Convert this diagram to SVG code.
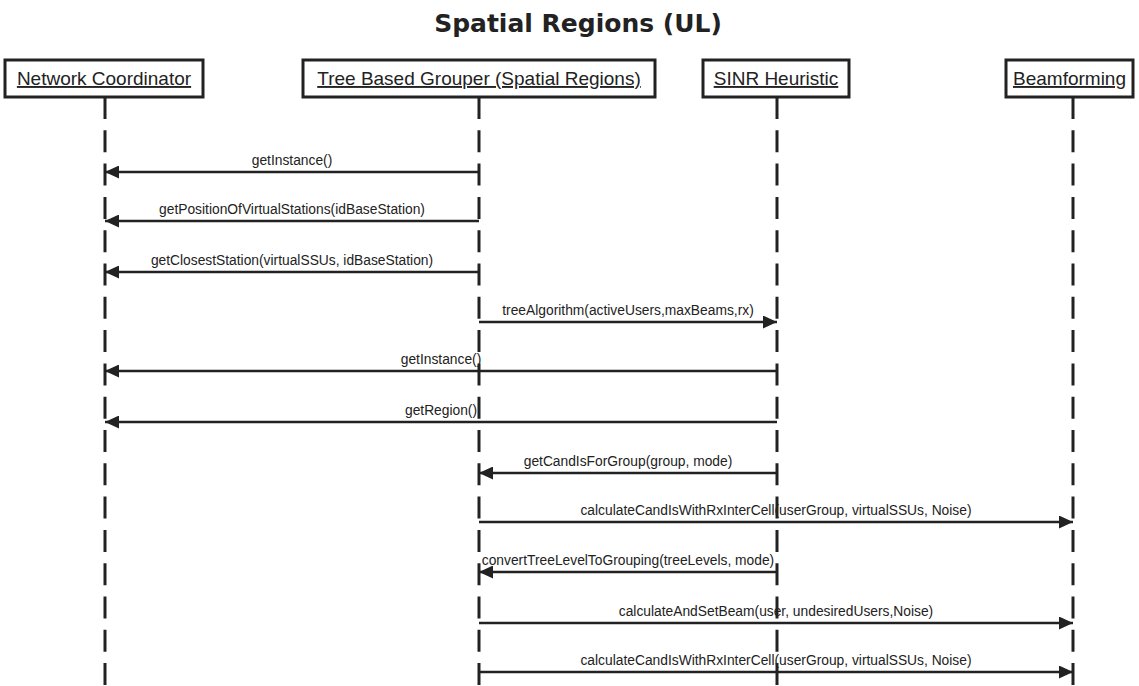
<svg xmlns="http://www.w3.org/2000/svg" width="1139" height="686" viewBox="0 0 1139 686">
  <style>
    .title { font-family: "DejaVu Sans", Verdana, sans-serif; font-weight: bold; font-size: 25px; fill: #222; }
    .box { fill: #fff; stroke: #222; stroke-width: 3; }
    .name { font-family: "Liberation Sans", Arial, sans-serif; font-size: 19px; fill: #222; text-decoration: underline; }
    .life { stroke: #222; stroke-width: 3; stroke-dasharray: 22 11.3; fill: none; }
    .msg { stroke: #222; stroke-width: 2.5; fill: none; }
    .lbl { font-family: "Liberation Sans", Arial, sans-serif; font-size: 13.8px; fill: #222; text-anchor: middle; }
  </style>
  <defs>
    <marker id="arrow" viewBox="0 0 14 13" refX="14" refY="6.5" markerWidth="14" markerHeight="13" markerUnits="userSpaceOnUse" orient="auto">
      <path d="M0,0 L14,6.5 L0,13 Z" fill="#222"/>
    </marker>
  </defs>
  <rect width="1139" height="686" fill="#fff"/>

  <text class="title" x="578" y="32" text-anchor="middle">Spatial Regions (UL)</text>

  <!-- lifelines -->
  <g id="lifelines">
    <line class="life" x1="105" y1="97" x2="105" y2="686"/>
    <line class="life" x1="479" y1="97" x2="479" y2="686"/>
    <line class="life" x1="777" y1="97" x2="777" y2="686"/>
    <line class="life" x1="1073" y1="97" x2="1073" y2="686"/>
  </g>

  <!-- participants -->
  <g id="network-coordinator">
    <rect class="box" x="5" y="60" width="198" height="37"/>
    <text class="name" x="104" y="85" text-anchor="middle">Network Coordinator</text>
  </g>
  <g id="tree-based-grouper">
    <rect class="box" x="303" y="60" width="352" height="37"/>
    <text class="name" x="479" y="85" text-anchor="middle">Tree Based Grouper (Spatial Regions)</text>
  </g>
  <g id="sinr-heuristic">
    <rect class="box" x="703" y="60" width="146" height="37"/>
    <text class="name" x="776" y="85" text-anchor="middle">SINR Heuristic</text>
  </g>
  <g id="beamforming">
    <rect class="box" x="1006" y="60" width="127" height="37"/>
    <text class="name" x="1069.500" y="85" text-anchor="middle">Beamforming</text>
  </g>

  <!-- messages -->
  <g id="connectors">
    <line class="msg" x1="479" y1="172" x2="105" y2="172" marker-end="url(#arrow)"/>
    <text class="lbl" x="292" y="165">getInstance()</text>

    <line class="msg" x1="479" y1="221" x2="105" y2="221" marker-end="url(#arrow)"/>
    <text class="lbl" x="292" y="214">getPositionOfVirtualStations(idBaseStation)</text>

    <line class="msg" x1="479" y1="272" x2="105" y2="272" marker-end="url(#arrow)"/>
    <text class="lbl" x="292" y="265">getClosestStation(virtualSSUs, idBaseStation)</text>

    <line class="msg" x1="479" y1="322" x2="777" y2="322" marker-end="url(#arrow)"/>
    <text class="lbl" x="628" y="315">treeAlgorithm(activeUsers,maxBeams,rx)</text>

    <line class="msg" x1="777" y1="371" x2="105" y2="371" marker-end="url(#arrow)"/>
    <text class="lbl" x="441" y="364">getInstance()</text>

    <line class="msg" x1="777" y1="422" x2="105" y2="422" marker-end="url(#arrow)"/>
    <text class="lbl" x="441" y="415">getRegion()</text>

    <line class="msg" x1="777" y1="473" x2="479" y2="473" marker-end="url(#arrow)"/>
    <text class="lbl" x="628" y="466">getCandIsForGroup(group, mode)</text>

    <line class="msg" x1="479" y1="522" x2="1073" y2="522" marker-end="url(#arrow)"/>
    <text class="lbl" x="776" y="515">calculateCandIsWithRxInterCell(userGroup, virtualSSUs, Noise)</text>

    <line class="msg" x1="777" y1="572" x2="479" y2="572" marker-end="url(#arrow)"/>
    <text class="lbl" x="628" y="565">convertTreeLevelToGrouping(treeLevels, mode)</text>

    <line class="msg" x1="479" y1="623" x2="1073" y2="623" marker-end="url(#arrow)"/>
    <text class="lbl" x="776" y="616">calculateAndSetBeam(user, undesiredUsers,Noise)</text>

    <line class="msg" x1="479" y1="672" x2="1073" y2="672" marker-end="url(#arrow)"/>
    <text class="lbl" x="776" y="665">calculateCandIsWithRxInterCell(userGroup, virtualSSUs, Noise)</text>
  </g>
</svg>
